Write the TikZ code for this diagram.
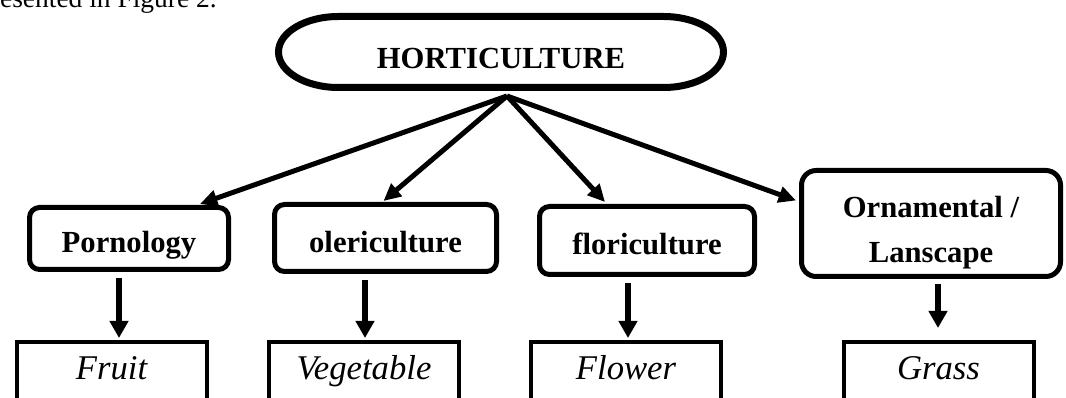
\documentclass[tikz,border=0pt]{standalone}
\usepackage{fontspec}
\setmainfont{Liberation Serif}
\usetikzlibrary{arrows.meta,calc}
\begin{document}
\begin{tikzpicture}[x=0.75pt,y=-0.75pt,
  pillline/.style={line width=5.25pt},
  pilltext/.style={draw=none,inner sep=0pt,outer sep=0pt,minimum width=333.75pt,minimum height=53.25pt,
    font=\fontsize{23}{28}\selectfont\bfseries,text height=24.75pt,text depth=0pt},
  catbox/.style={draw,line width=3.75pt,rounded corners=7.5pt,inner sep=0pt,
    font=\fontsize{23}{28}\selectfont\bfseries,text height=21.75pt,text depth=0pt},
  leaf/.style={draw,line width=3pt,inner sep=0pt,anchor=north,minimum width=142.5pt,minimum height=60pt,
    font=\fontsize{26}{30}\selectfont\itshape,text height=15pt,text depth=18pt},
  arr/.style={line width=3.75pt,-{Triangle[length=13pt,width=12pt]}},
  darr/.style={line width=4.5pt,-{Triangle[length=12.75pt,width=13.5pt]}},
  captext/.style={font=\fontsize{20.6}{24}\selectfont,anchor=base east,inner sep=0pt}
]
\useasboundingbox (0,0) rectangle (1066,398);
\clip (0,0) rectangle (1066,398);
\fill[white] (0,0) rectangle (1066,398);

\node[captext] (cap) at (217,8) {presented in Figure 2.};

% top pill
\node[pilltext] (H) at (501,52) {HORTICULTURE};
\draw[pillline] ($(H.north west)+(60,0)$) -- ($(H.north east)+(-60,0)$)
  arc[start angle=90,end angle=-90,x radius=45pt,y radius=26.625pt]
  -- ($(H.south west)+(60,0)$)
  arc[start angle=270,end angle=90,x radius=45pt,y radius=26.625pt] -- cycle;
\coordinate (hub) at ($(H.south)+(6,8.5)$);

% categories
\node[catbox,minimum width=149.25pt,minimum height=46.5pt] (P) at (129,238.5) {Pornology};
\node[catbox,minimum width=166.5pt,minimum height=50.25pt] (O) at (385.5,238) {olericulture};
\node[catbox,minimum width=161.25pt,minimum height=51pt] (F) at (647,240.5) {floriculture};
\node[catbox,rounded corners=11pt,minimum width=194.25pt,minimum height=79.5pt,
  text height=16pt,text depth=24.25pt] (N) at (931,223.5)
  {\begin{tabular}[t]{@{}c@{}}Ornamental /\\[5.4pt]Lanscape\end{tabular}};

% leaves
\node[leaf] (Fr) at (111.5,340) {Fruit};
\node[leaf] (Vg) at (364,340) {Vegetable};
\node[leaf] (Fl) at (626,340) {Flower};
\node[leaf] (Gr) at (938.5,340) {Grass};

% connectors
\draw[arr] (hub) -- ($(P.north)+(71,-1)$);
\draw[arr] (hub) -- ($(O.north)+(-2,-1)$);
\draw[arr] (hub) -- ($(F.north)+(-42,-2)$);
\draw[arr] (hub) -- ($(N.west)+(-3,-23)$);

\draw[darr] ($(P.south)+(-10,6)$) -- ($(Fr.north)+(7.5,-2)$);
\draw[darr] ($(O.south)+(-20.5,6)$) -- ($(Vg.north)+(1,-2)$);
\draw[darr] ($(F.south)+(-19,6)$) -- ($(Fl.north)+(2,-2)$);
\draw[darr] ($(N.south)+(7,5)$) -- ($(Gr.north)+(-0.5,-12)$);
\end{tikzpicture}
\end{document}
